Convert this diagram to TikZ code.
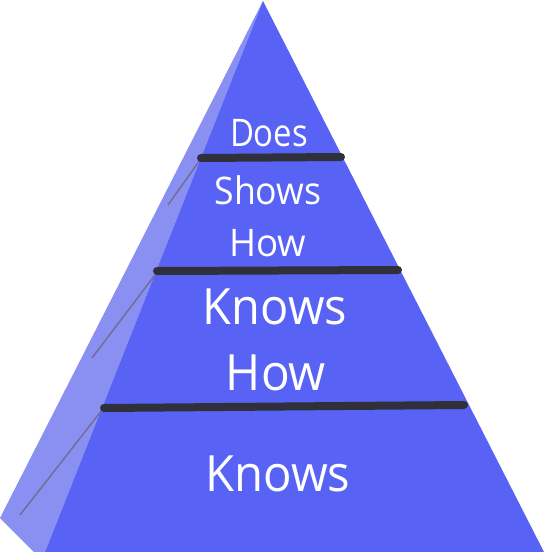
\documentclass[tikz,border=0pt]{standalone}
\usepackage{fontspec}
\setmainfont{Open Sans}
\usepackage{graphicx}
\definecolor{frontblue}{RGB}{88,99,245}
\definecolor{sideblue}{RGB}{138,143,242}
\definecolor{bandgray}{RGB}{48,48,58}
\definecolor{edgegray}{RGB}{110,110,145}
\newcommand{\fitw}[2]{\resizebox{#1}{\height}{#2}}
\tikzset{
  bigtxt/.style={text=white, inner sep=0pt, font=\fontsize{50}{50}\selectfont},
  smalltxt/.style={text=white, inner sep=0pt, font=\fontsize{38}{38}\selectfont},
  band/.style={draw=bandgray, line width=8pt, line cap=round},
  thinedge/.style={draw=edgegray, line width=1.4pt},
}
\begin{document}
\begin{tikzpicture}[x=1pt,y=-1pt]
\useasboundingbox (0,0) rectangle (544,552);
\coordinate (apex) at (263,1);
\coordinate (sideL) at (0,518);
\coordinate (sideB) at (34,552);
\coordinate (frontL) at (45,552);
\coordinate (frontR) at (544,552);
% side face
\fill[sideblue] (apex) -- (sideL) -- (sideB) -- (frontL) -- cycle;
% front face
\fill[frontblue] (apex) -- (frontL) -- (frontR) -- cycle;
% thin edge lines on the side face
\coordinate (e1a) at (168,205); \coordinate (e1b) at (200,160);
\coordinate (e2a) at (92,358);  \coordinate (e2b) at (155,275);
\coordinate (e3a) at (20,515);  \coordinate (e3b) at (102,410);
\draw[thinedge] (e1a) -- (e1b);
\draw[thinedge] (e2a) -- (e2b);
\draw[thinedge] (e3a) -- (e3b);
% bands
\coordinate (b1l) at (201,158); \coordinate (b1r) at (341,157);
\coordinate (b2l) at (157,271); \coordinate (b2r) at (398,270);
\coordinate (b3l) at (104,408); \coordinate (b3r) at (464,405);
\draw[band] (b1l) -- (b1r);
\draw[band] (b2l) -- (b2r);
\draw[band] (b3l) -- (b3r);
% labels
\node[smalltxt] (does) at (269,133) {\fitw{78pt}{Does}};
\node[smalltxt] (shows) at (268,190) {\fitw{107pt}{Shows}};
\node[smalltxt] (showshow) at (268,243) {\fitw{77pt}{How}};
\node[bigtxt] (knowshowA) at (275,307) {\fitw{144pt}{Knows}};
\node[bigtxt] (knowshowB) at (276,373) {\fitw{100pt}{How}};
\node[bigtxt] (knows) at (278,474) {\fitw{145pt}{Knows}};
\end{tikzpicture}
\end{document}
